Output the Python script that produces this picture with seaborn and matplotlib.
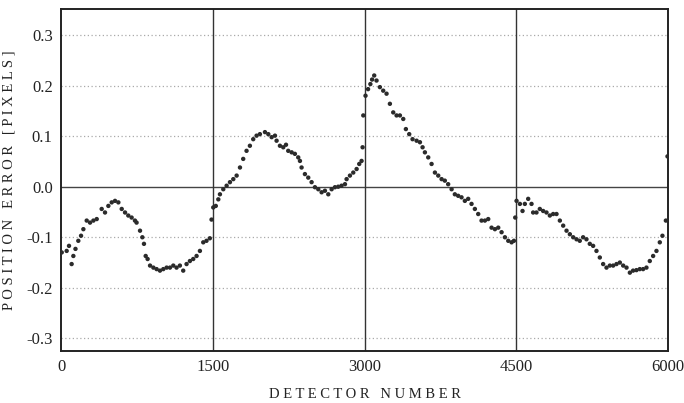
import matplotlib
matplotlib.use("Agg")
import matplotlib.pyplot as plt
import seaborn as sns
import pandas as pd

# detector numbers and position errors
detector = [
    7, 56, 79, 105, 122, 143, 171, 198, 221, 254, 287, 320, 353, 402, 435,
    468, 501, 534, 567, 600, 633, 665, 698, 731, 747, 781, 804, 820, 837, 856,
    880, 913, 945, 978, 1011, 1044, 1077, 1110, 1142, 1175, 1208, 1241, 1274,
    1307, 1340, 1373, 1406, 1438, 1471, 1488,
    1505, 1530, 1555, 1571, 1604, 1637, 1670, 1703, 1736, 1769, 1801, 1834,
    1867, 1900, 1933, 1966, 2016, 2049, 2082, 2115, 2131, 2164, 2197, 2224,
    2246, 2280, 2312, 2345, 2362, 2378, 2411, 2444, 2477, 2510, 2543, 2576,
    2609, 2642, 2675, 2708, 2740, 2773, 2807, 2823, 2856, 2889, 2922, 2948,
    2971, 2981, 2988,
    3010, 3035, 3058, 3075, 3096, 3119, 3152, 3185, 3218, 3251, 3284, 3317,
    3350, 3383, 3409, 3442, 3475, 3515, 3548, 3574, 3597, 3630, 3663, 3696,
    3729, 3762, 3794, 3827, 3861, 3893, 3926, 3959, 3992, 4025, 4058, 4091,
    4124, 4157, 4190, 4223, 4256, 4289, 4322, 4355, 4388, 4421, 4454, 4477,
    4490,
    4503, 4536, 4562, 4585, 4618, 4651, 4667, 4700, 4733, 4766, 4799, 4832,
    4865, 4898, 4931, 4964, 4997, 5030, 5063, 5096, 5128, 5161, 5194, 5227,
    5260, 5293, 5326, 5359, 5392, 5425, 5458, 5491, 5524, 5557, 5590, 5623,
    5655, 5688, 5721, 5754, 5787, 5820, 5853, 5886, 5919, 5945, 5979, 5995,
]
error = [
    -0.130, -0.127, -0.117, -0.153, -0.137, -0.123, -0.107, -0.097, -0.084,
    -0.067, -0.071, -0.067, -0.064, -0.044, -0.051, -0.038, -0.031, -0.028,
    -0.031, -0.044, -0.051, -0.057, -0.061, -0.067, -0.071, -0.087, -0.100,
    -0.113, -0.137, -0.143, -0.156, -0.160, -0.163, -0.166, -0.163, -0.160,
    -0.160, -0.156, -0.160, -0.156, -0.166, -0.153, -0.147, -0.143, -0.137,
    -0.127, -0.110, -0.107, -0.102, -0.065,
    -0.041, -0.038, -0.025, -0.015, -0.005, 0.002, 0.009, 0.015, 0.022,
    0.038, 0.055, 0.071, 0.081, 0.094, 0.101, 0.104, 0.108, 0.104, 0.098,
    0.101, 0.091, 0.081, 0.078, 0.083, 0.071, 0.068, 0.065, 0.058, 0.051,
    0.038, 0.025, 0.018, 0.009, -0.001, -0.005, -0.011, -0.008, -0.015,
    -0.005, -0.001, 0.000, 0.002, 0.005, 0.015, 0.022, 0.028, 0.035, 0.045,
    0.051, 0.078, 0.141,
    0.180, 0.193, 0.203, 0.212, 0.220, 0.210, 0.197, 0.190, 0.184, 0.164,
    0.147, 0.141, 0.141, 0.134, 0.114, 0.104, 0.094, 0.091, 0.088, 0.078,
    0.068, 0.058, 0.045, 0.028, 0.022, 0.015, 0.012, 0.005, -0.005, -0.015,
    -0.018, -0.021, -0.028, -0.024, -0.034, -0.044, -0.054, -0.067, -0.067,
    -0.064, -0.081, -0.084, -0.081, -0.090, -0.100, -0.107, -0.110, -0.107,
    -0.061,
    -0.028, -0.034, -0.048, -0.034, -0.024, -0.034, -0.051, -0.051, -0.044,
    -0.048, -0.051, -0.057, -0.054, -0.054, -0.067, -0.077, -0.087, -0.094,
    -0.100, -0.104, -0.107, -0.100, -0.104, -0.113, -0.117, -0.127, -0.140,
    -0.153, -0.160, -0.156, -0.156, -0.153, -0.150, -0.156, -0.160, -0.170,
    -0.166, -0.165, -0.163, -0.163, -0.160, -0.147, -0.137, -0.127, -0.110,
    -0.097, -0.067, 0.060,
]

x_ticks = [0, 1500, 3000, 4500, 6000]
y_ticks = [-0.3, -0.2, -0.1, 0.0, 0.1, 0.2, 0.3]
section_edges = [1500, 3000, 4500]

df = pd.DataFrame({"detector": detector, "error": error})

sns.set_style("white")
plt.rcParams["font.family"] = ["Liberation Serif", "DejaVu Serif"]
plt.rcParams["axes.unicode_minus"] = False

fig = plt.figure(figsize=(6.84, 4.03), dpi=100)
ax = fig.add_axes([0.0892, 0.129, 0.8874, 0.848])

# dotted grid at the tenths, solid lines at zero and section borders
for yv in y_ticks:
    if yv == 0.0:
        ax.axhline(0.0, color="#444444", lw=1.0, zorder=1)
    else:
        ax.axhline(yv, color="#aaaaaa", lw=0.9, ls=(0, (1.0, 2.0)), zorder=1)
for xv in section_edges:
    ax.axvline(xv, color="#333333", lw=1.0, zorder=1)

sns.scatterplot(data=df, x="detector", y="error", ax=ax, s=10,
                color="#2b2b2b", edgecolor="none", zorder=3)

ax.set_xlim(0, 6000)
ax.set_ylim(-0.325, 0.351)
ax.set_xticks(x_ticks)
ax.set_yticks(y_ticks)
ax.set_xticklabels([str(v) for v in x_ticks])
ax.set_yticklabels([f"{v:.1f}" for v in y_ticks])
ax.tick_params(length=0, labelsize=12, colors="#222222")
ax.tick_params(axis="x", pad=6)
ax.tick_params(axis="y", pad=6)

for sp in ax.spines.values():
    sp.set_color("#222222")
    sp.set_linewidth(1.4)

ax.set_xlabel("D E T E C T O R   N U M B E R", fontsize=10.5, color="#222222",
              labelpad=9)
ax.set_ylabel("P O S I T I O N   E R R O R   [ P I X E L S ]", fontsize=10.5,
              color="#222222", labelpad=8)

fig.savefig("out.png", dpi=100)
